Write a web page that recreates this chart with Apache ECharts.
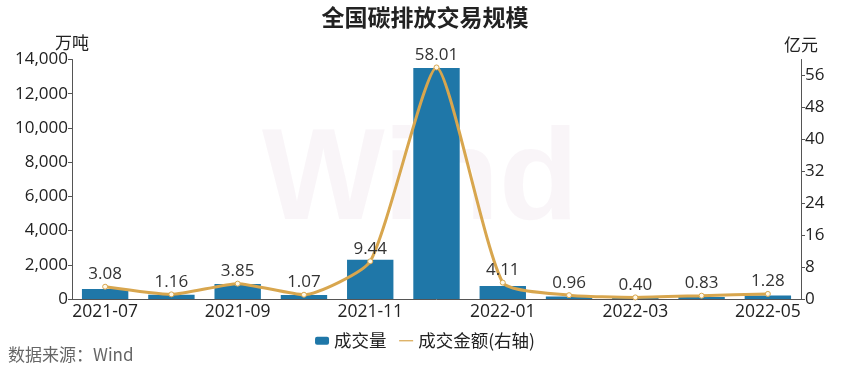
<!DOCTYPE html>
<html><head><meta charset="utf-8">
<script src="https://cdn.jsdelivr.net/npm/echarts@6/dist/echarts.min.js"></script>
<style>html,body{margin:0;padding:0;background:#fff}#c{width:850px;height:373px}</style>
</head><body><div id="c"></div>
<script>
var categories = ['2021-07','2021-08','2021-09','2021-10','2021-11','2021-12','2022-01','2022-02','2022-03','2022-04','2022-05'];
var volume = [590, 250, 870, 240, 2300, 13500, 760, 140, 60, 120, 200];
var amount = [3.08, 1.16, 3.85, 1.07, 9.44, 58.01, 4.11, 0.96, 0.40, 0.83, 1.28];
var font = '"Noto Sans CJK SC", "Noto Sans", sans-serif';
var numFont = '"Open Sans", "Noto Sans CJK SC", sans-serif';
var chart = echarts.init(document.getElementById('c'));
chart.setOption({
  animation: false,
  textStyle: {fontFamily: font},
  title: {text: '全国碳排放交易规模', left: 'center', top: 1,
    textStyle: {fontSize: 23, fontWeight: 'bold', color: '#222', fontFamily: font}},
  graphic: [
    {type: 'text', left: 262, top: 118, z: -1, silent: true,
      style: {text: 'Wind', fontSize: 130, fontWeight: 'bold', fill: 'rgba(245,238,243,0.6)', fontFamily: 'Liberation Sans'}},
    {type: 'text', left: 8, top: 346, style: {text: '数据来源：Wind', fontSize: 17, fill: '#666', fontFamily: font}}
  ],
  legend: {top: 327, left: 'center', itemGap: 12, itemWidth: 14, itemHeight: 8,
    textStyle: {fontSize: 17.5, color: '#222', fontFamily: font},
    data: [{name: '成交量', icon: 'roundRect'},
           {name: '成交金额(右轴)', itemStyle: {opacity: 0}, lineStyle: {width: 1.2, color: '#d8a64e'}}]},
  grid: {left: 72, right: 49, top: 59.5, bottom: 74},
  xAxis: {type: 'category', data: categories,
    axisLine: {lineStyle: {color: '#555'}},
    axisTick: {alignWithLabel: true, interval: 0, length: 5, lineStyle: {color: '#555'}},
    axisLabel: {interval: 1, fontSize: 17.5, color: '#222', margin: 4, fontFamily: numFont}},
  yAxis: [
    {type: 'value', min: 0, max: 14000, interval: 2000, name: '万吨', nameGap: 6,
      nameTextStyle: {fontSize: 17, color: '#222', align: 'center', fontFamily: font},
      axisLine: {show: true, lineStyle: {color: '#555'}},
      axisTick: {show: true, length: 4, lineStyle: {color: '#555'}},
      splitLine: {show: false},
      axisLabel: {fontSize: 17, color: '#222', margin: 4, fontFamily: numFont}},
    {type: 'value', min: 0, max: 60, interval: 8, name: '亿元', nameGap: 6,
      nameTextStyle: {fontSize: 17, color: '#222', align: 'center', fontFamily: font},
      axisLine: {show: true, lineStyle: {color: '#555'}},
      axisTick: {show: true, length: 4, lineStyle: {color: '#555'}},
      splitLine: {show: false},
      axisLabel: {fontSize: 17, color: '#222', margin: 4, showMaxLabel: false, fontFamily: numFont}}
  ],
  series: [
    {name: '成交量', type: 'bar', data: volume, barWidth: '70%',
      itemStyle: {color: '#1f77a8'}},
    {name: '成交金额(右轴)', type: 'line', yAxisIndex: 1, data: amount, smooth: 0.18,
      symbol: 'circle', symbolSize: 5,
      lineStyle: {color: '#d8a64e', width: 3},
      itemStyle: {color: '#fff8e8', borderColor: '#d8a64e', borderWidth: 1},
      label: {show: true, position: 'top', distance: 1, fontSize: 17, color: '#333',
        formatter: function(p){ return p.value.toFixed(2); }, fontFamily: numFont}}
  ]
});
</script></body></html>
